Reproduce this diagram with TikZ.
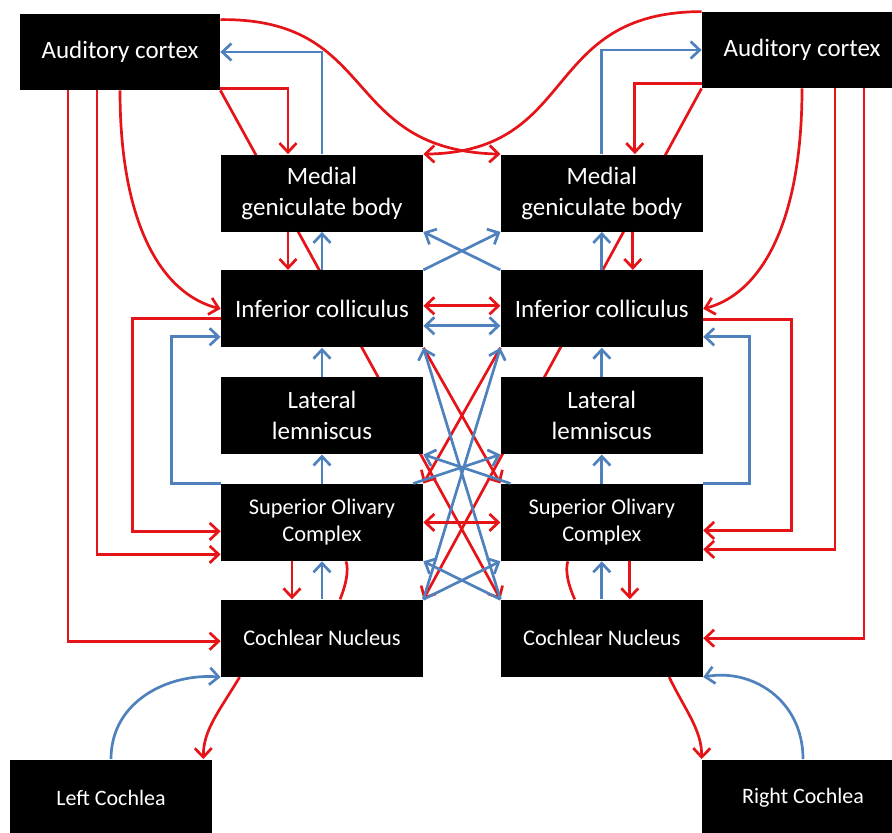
\documentclass[tikz,border=0pt]{standalone}
\usepackage{fontspec}
\setmainfont{Carlito}
\usetikzlibrary{arrows.meta, positioning, calc, backgrounds}

\definecolor{pathred}{RGB}{228,20,24}
\definecolor{pathblue}{RGB}{79,129,189}

\begin{document}
\begin{tikzpicture}[
    x=0.5pt, y=-0.5pt,
    >={Straight Barb[length=4.5pt,width=8.5pt]},
    node distance=19pt and 38.5pt,
    nucleus/.style={rectangle, fill=black, text=white, minimum width=101pt, minimum height=38.5pt, inner sep=1pt, align=center, font=\fontsize{12.5}{15.5}\selectfont},
    smallbox/.style={nucleus, font=\fontsize{11.2}{13.5}\selectfont},
    cortex/.style={nucleus, minimum width=100pt, minimum height=38pt},
    redline/.style={draw=pathred, line width=1.35pt},
    redarrow/.style={redline, ->},
    bluearrow/.style={draw=pathblue, line width=1.35pt, ->},
]
\useasboundingbox (0,0) rectangle (892,832);

% === Auditory cortex ===
\node (acL) [cortex] at (120,52) {Auditory cortex};
\node (acR) [cortex] at (802,50) {Auditory cortex};

% === Left pathway ===
\node (mgbL) [nucleus] at (322,193) {Medial\\geniculate body};
\node (icL) [nucleus, below=of mgbL] {Inferior colliculus};
\node (llL) [nucleus, below=14.5pt of icL] {Lateral\\lemniscus};
\node (socL) [smallbox, below=14.5pt of llL] {Superior Olivary\\Complex};
\node (cnL) [smallbox, below=of socL] {Cochlear Nucleus};

% === Right pathway ===
\node (mgbR) [nucleus, right=of mgbL] {Medial\\geniculate body};
\node (icR) [nucleus, right=of icL] {Inferior colliculus};
\node (llR) [nucleus, right=of llL] {Lateral\\lemniscus};
\node (socR) [smallbox, right=of socL] {Superior Olivary\\Complex};
\node (cnR) [smallbox, right=of cnL] {Cochlear Nucleus};

% === Cochleae ===
\node (cochL) [smallbox, font=\fontsize{11}{13}\selectfont] at (111,798) {Left Cochlea};
\node (cochR) [smallbox, font=\fontsize{11}{13}\selectfont] at (803,798) {Right Cochlea};

% === Cortex to opposite MGB ===
\draw[redarrow] ($(acL.north east)+(0,6)$) .. controls (380,18) and (340,150) .. (mgbR.north west);
\draw[redarrow] (acR.north west) .. controls (540,12) and (580,152) .. (mgbL.north east);

% === MGB <-> cortex ===
\draw[bluearrow] (mgbL.north) |- (acL.east);
\draw[bluearrow] (mgbR.north) |- (acR.west);
\draw[redarrow] ($(acL.south east)+(0,-2)$) -| ($(mgbL.north)+(-34,0)$);
\draw[redarrow] ($(acR.south west)+(0,-5)$) -| ($(mgbR.north)+(33,0)$);

% long descending lines, behind the nuclei
\begin{scope}[on background layer]
\draw[redarrow] (acL.south east) -- (cnR.north west);
\draw[redarrow] (acR.south west) -- (cnL.north east);
\end{scope}

% === Left outer connections ===
\draw[redarrow] (acL.south) .. controls (120,230) and (165,295) .. (icL.west);
\draw[redarrow] ($(acL.south)+(-23,0)$) |- ($(socL.west)+(0,32)$);
\draw[redarrow] ($(acL.south)+(-52,0)$) |- ($(cnL.west)+(0,3)$);
\draw[redarrow] ($(icL.west)+(0,10)$) -- ++(-88,0) |- ($(socL.west)+(0,9)$);
\draw[bluearrow] (socL.north west) -- ++(-49,0) |- ($(icL.west)+(0,28)$);

% === Right outer connections ===
\draw[redarrow] (acR.south) .. controls (802,230) and (757,295) .. (icR.east);
\draw[redarrow] ($(acR.south)+(33,0)$) |- ($(socR.east)+(0,27)$);
\draw[redarrow] ($(acR.south)+(62,0)$) |- (cnR.east);
\draw[redarrow] ($(icR.east)+(0,11)$) -- ++(88,0) |- ($(socR.east)+(0,8)$);
\draw[bluearrow] (socR.north east) -- ++(46,0) |- ($(icR.east)+(0,28)$);

% === Left column ===
\draw[redarrow] ($(mgbL.south)+(-34,0)$) -- ($(icL.north)+(-34,0)$);
\draw[bluearrow] (icL) -- (mgbL);
\draw[bluearrow] (llL) -- (icL);
\draw[bluearrow] (socL) -- (llL);
\draw[redarrow] ($(socL.south)+(-30,0)$) -- ($(cnL.north)+(-30,0)$);
\draw[bluearrow] (cnL) -- (socL);
\draw[redline] ($(socL.south)+(24,0)$) .. controls (349,570) and (346,585) .. ($(cnL.north)+(18,0)$);

% === Right column ===
\draw[redarrow] ($(mgbR.south)+(31,0)$) -- ($(icR.north)+(31,0)$);
\draw[bluearrow] (icR) -- (mgbR);
\draw[bluearrow] (llR) -- (icR);
\draw[bluearrow] (socR) -- (llR);
\draw[redarrow] ($(socR.south)+(28,0)$) -- ($(cnR.north)+(28,0)$);
\draw[bluearrow] (cnR) -- (socR);
\draw[redline] ($(socR.south)+(-34,0)$) .. controls (565,570) and (568,585) .. ($(cnR.north)+(-27,0)$);

% === Between the two pathways ===
\draw[bluearrow] (icL.north east) -- (mgbR.south west);
\draw[bluearrow] (icR.north west) -- (mgbL.south east);
\draw[redarrow, <->] ($(icL.east)+(0,-3)$) -- ($(icR.west)+(0,-3)$);
\draw[bluearrow, <->] ($(icL.east)+(0,17)$) -- ($(icR.west)+(0,17)$);
\draw[redarrow] (icL.south east) -- (socR.north west);
\draw[redarrow] (icR.south west) -- (socL.north east);
\draw[bluearrow] (cnR.north west) -- (icL.south east);
\draw[bluearrow] (cnL.north east) -- (icR.south west);
\draw[bluearrow] ($(socL.north east)+(-10,0)$) -- (llR.south west);
\draw[bluearrow] ($(socR.north west)+(10,0)$) -- (llL.south east);
\draw[redarrow, <->] (socL) -- (socR);
\draw[bluearrow] (cnL.north east) -- (socR.south west);
\draw[bluearrow] (cnR.north west) -- (socL.south east);

% === Cochlea <-> nucleus ===
\draw[bluearrow] (cochL.north) .. controls (111,700) and (170,673) .. (cnL.south west);
\draw[redarrow] ($(cnL.south west)+(19,0)$) .. controls (220,710) and (203,730) .. ($(cochL.north east)+(-9,0)$);
\draw[bluearrow] (cochR.north) .. controls (803,700) and (752,668) .. (cnR.south east);
\draw[redarrow] ($(cnR.south east)+(-34,0)$) .. controls (685,710) and (702,730) .. (cochR.north west);

\end{tikzpicture}
\end{document}
